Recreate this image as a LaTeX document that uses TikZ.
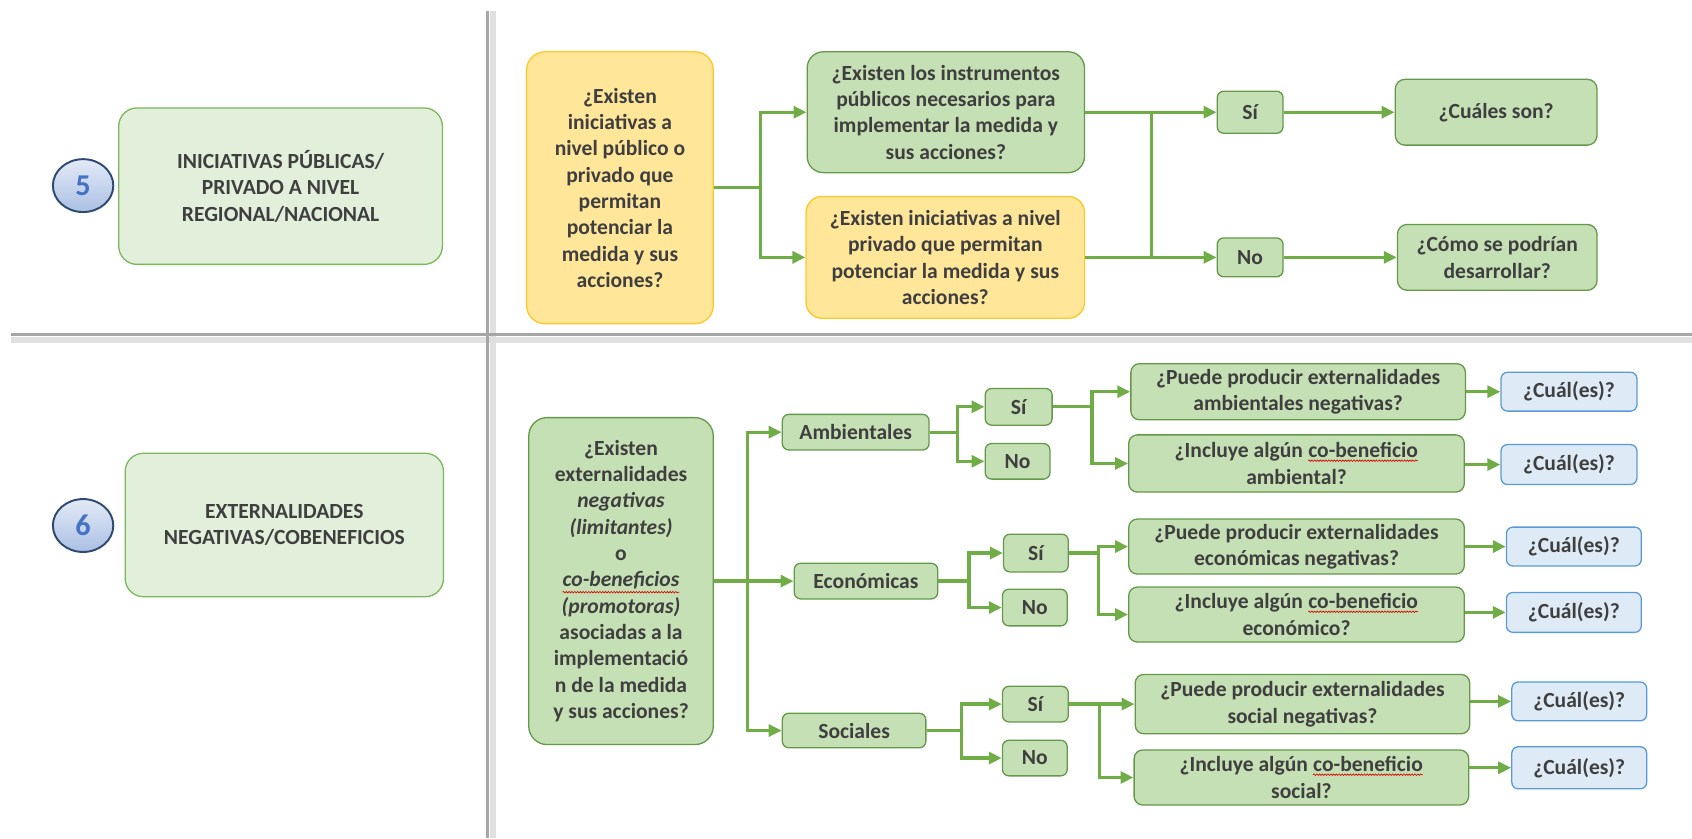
\documentclass[tikz,border=0pt]{standalone}
\usepackage{fontspec}
\setmainfont{Carlito}
\usepackage{xcolor}
\usepackage{tikz}
\usetikzlibrary{arrows.meta,shapes.geometric,decorations.pathmorphing}

\definecolor{txtgray}{HTML}{3F3F3F}
\definecolor{secfill}{HTML}{E2EFDA}
\definecolor{secline}{HTML}{7DB75B}
\definecolor{askfill}{HTML}{C5E0B4}
\definecolor{askline}{HTML}{64994A}
\definecolor{ideafill}{HTML}{FFE699}
\definecolor{idealine}{HTML}{FFC726}
\definecolor{cualfill}{HTML}{DEEBF7}
\definecolor{cualline}{HTML}{5B9BD5}
\definecolor{flowgreen}{HTML}{70AD47}
\definecolor{numblue}{HTML}{4472C4}
\definecolor{numline}{HTML}{2E4A70}
\definecolor{divgray}{HTML}{A6A6A6}

% red spell-check wave under a word
\newcommand{\squig}[1]{\tikz[baseline=(w.base)]{\node[shape=rectangle,draw=none,fill=none,inner sep=0pt,outer sep=0pt,
    minimum width=0pt,minimum height=0pt,rounded corners=0pt] (w) {#1};
  \draw[red!85!black,line width=0.6pt,rounded corners=0pt,decorate,decoration={snake,amplitude=0.7pt,segment length=2.6pt}]
  ([yshift=-2.5pt]w.south west) -- ([yshift=-2.5pt]w.south east);}}

\begin{document}
\begin{tikzpicture}
                [
                x=1pt,y=-1pt,
                box/.style={draw,rounded corners=8pt,line width=1.2pt,align=center,text=txtgray,
                            font=\bfseries\fontsize{20}{24.4}\selectfont},
                sec/.style={box,fill=secfill,draw=secline,rounded corners=17pt},
                ask/.style={box,fill=askfill,draw=askline},
                idea/.style={box,fill=ideafill,draw=idealine,rounded corners=17pt},
                opt/.style={box,fill=askfill,draw=askline,rounded corners=6pt},
                cual/.style={box,fill=cualfill,draw=cualline,rounded corners=6pt},
                num/.style={ellipse,draw=numline,line width=1.8pt,top color=white!85!numblue,
                            bottom color=numblue!45,text=numblue,minimum width=56pt,minimum height=49pt,
                            font=\bfseries\fontsize{28}{30}\selectfont},
                link/.style={draw=flowgreen,line width=3pt},
                flow/.style={link,-{Triangle[length=12pt,width=11pt]}}
                ]
            \useasboundingbox (0,0) rectangle (1568,777);
            % dividers
            \draw[line width=6pt,black!12] (457,10) -- (457,777);
            \draw[line width=6pt,black!12] (10,315) -- (1568,315);
            \draw[line width=3pt,divgray] (452,10) -- (452,777);
            \draw[line width=3pt,divgray] (10,310) -- (1568,310);

            % section 5
            \node[num] (n5) at (77,172) {5};
            \node[sec,minimum width=300pt,minimum height=145pt] (sec5) at (260,172.5)
                {INICIATIVAS PÚBLICAS/\\PRIVADO A NIVEL\\REGIONAL/NACIONAL};
            \node[idea,minimum width=173pt,minimum height=252pt] (q5) at (574.5,174)
                {¿Existen\\iniciativas a\\nivel público o\\privado que\\permitan\\potenciar la\\medida y sus\\acciones?};
            \node[ask,rounded corners=15pt,minimum width=257pt,minimum height=112pt] (inst) at (876.5,104)
                {¿Existen los instrumentos\\públicos necesarios para\\implementar la medida y\\sus acciones?};
            \node[idea,rounded corners=15pt,minimum width=258pt,minimum height=113pt] (priv) at (876,238.5)
                {¿Existen iniciativas a nivel\\privado que permitan\\potenciar la medida y sus\\acciones?};
            \node[opt,minimum width=61pt,minimum height=39pt] (si5) at (1158.5,104) {Sí};
            \node[opt,minimum width=61pt,minimum height=36pt] (no5) at (1158.5,238.5) {No};
            \node[opt,rounded corners=9pt,minimum width=187pt,minimum height=61pt] (cuales) at (1386.5,104) {¿Cuáles son?};
            \node[opt,rounded corners=9pt,minimum width=185pt,minimum height=61pt] (como) at (1387.5,238.5)
                {¿Cómo se podrían\\desarrollar?};

            \coordinate (b5) at (705,174);
            \coordinate (j5) at (1067,0);
            \draw[link] (q5.east) -- (b5);
            \draw[flow] (b5) |- (inst.west);
            \draw[flow] (b5) |- (priv.west);
            \draw[flow] (inst.east) -- (si5.west);
            \draw[flow] (priv.east) -- (no5.west);
            \draw[link] (j5 |- inst.east) -- (j5 |- priv.east);
            \draw[flow] (si5.east) -- (cuales.west);
            \draw[flow] (no5.east) -- (como.west);

            % section 6
            \node[num] (n6) at (77,487) {6};
            \node[sec,minimum width=295pt,minimum height=133pt] (sec6) at (263.5,486.5)
                {EXTERNALIDADES\\NEGATIVAS/COBENEFICIOS};
            \node[ask,rounded corners=17pt,minimum width=171pt,minimum height=303pt] (q6) at (575.5,538.5)
                {¿Existen\\externalidades\\\textit{negativas}\\\textit{(limitantes)}\\o\\\squig{\textit{co-beneficios}}\\
                 \textit{(promotoras)}\\asociadas a la\\implementació\\n de la medida\\y sus acciones?};
            \node[opt,minimum width=136pt,minimum height=33pt] (amb) at (793,400.5) {Ambientales};
            \node[opt,minimum width=133pt,minimum height=33pt] (eco) at (802.5,538.5) {Económicas};
            \node[opt,minimum width=133pt,minimum height=32pt] (soc) at (791.5,677) {Sociales};

            \node[opt,minimum width=62pt,minimum height=34pt] (sia) at (944,377) {Sí};
            \node[opt,minimum width=60pt,minimum height=33pt] (noa) at (943,427.5) {No};
            \node[opt,minimum width=60pt,minimum height=35pt] (sie) at (960,512.5) {Sí};
            \node[opt,minimum width=60pt,minimum height=34pt] (noe) at (959,563) {No};
            \node[opt,minimum width=61pt,minimum height=33pt] (sis) at (959.5,652.5) {Sí};
            \node[opt,minimum width=60pt,minimum height=33pt] (nos) at (959,702.5) {No};

            \node[ask,minimum width=310pt,minimum height=52pt] (pa) at (1203,363)
                {¿Puede producir externalidades\\ambientales negativas?};
            \node[ask,minimum width=311pt,minimum height=53pt] (ia) at (1201.5,429.5)
                {¿Incluye algún \squig{co-beneficio}\\ambiental?};
            \node[ask,minimum width=311pt,minimum height=51pt] (pe) at (1201.5,506.5)
                {¿Puede producir externalidades\\económicas negativas?};
            \node[ask,minimum width=311pt,minimum height=51pt] (ie) at (1201.5,569.5)
                {¿Incluye algún \squig{co-beneficio}\\económico?};
            \node[ask,minimum width=310pt,minimum height=55pt] (ps) at (1207,652.5)
                {¿Puede producir externalidades\\social negativas?};
            \node[ask,minimum width=310pt,minimum height=51pt] (is) at (1206,720.5)
                {¿Incluye algún \squig{co-beneficio}\\social?};

            \node[cual,minimum width=126pt,minimum height=36pt] (ca1) at (1454,363) {¿Cuál(es)?};
            \node[cual,minimum width=126pt,minimum height=37pt] (ca2) at (1454,430.5) {¿Cuál(es)?};
            \node[cual,minimum width=125pt,minimum height=36pt] (ce1) at (1458.5,506.5) {¿Cuál(es)?};
            \node[cual,minimum width=125pt,minimum height=37pt] (ce2) at (1458.5,567.5) {¿Cuál(es)?};
            \node[cual,minimum width=125pt,minimum height=36pt] (cs1) at (1463.5,650) {¿Cuál(es)?};
            \node[cual,minimum width=125pt,minimum height=39pt] (cs2) at (1463.5,711.5) {¿Cuál(es)?};

            \coordinate (b6) at (693,538.5);
            \draw[link] (q6.east) -- (b6);
            \draw[flow] (b6) |- (amb.west);
            \draw[flow] (b6) -- (eco.west);
            \draw[flow] (b6) |- (soc.west);

            \coordinate (ba) at (887,400.5);
            \draw[link] (amb.east) -- (ba);
            \draw[flow] (ba) |- (sia.west);
            \draw[flow] (ba) |- (noa.west);
            \coordinate (be) at (898,538.5);
            \draw[link] (eco.east) -- (be);
            \draw[flow] (be) |- (sie.west);
            \draw[flow] (be) |- (noe.west);
            \coordinate (bs) at (891,677);
            \draw[link] (soc.east) -- (bs);
            \draw[flow] (bs) |- (sis.west);
            \draw[flow] (bs) |- (nos.west);

            \coordinate (ja) at (1012,377);
            \draw[link] (sia.east) -- (ja);
            \draw[flow] (ja) |- (pa.west);
            \draw[flow] (ja) |- (ia.west);
            \coordinate (je) at (1018,512.5);
            \draw[link] (sie.east) -- (je);
            \draw[flow] (je) |- (pe.west);
            \draw[flow] (je) |- (ie.west);
            \coordinate (js) at (1019,652.5);
            \draw[link] (sis.east) -- (js);
            \draw[flow] (js) |- (ps.west);
            \draw[flow] (js) |- (is.west);

            \draw[flow] (pa.east |- ca1) -- (ca1.west);
            \draw[flow] (ia.east |- ca2) -- (ca2.west);
            \draw[flow] (pe.east |- ce1) -- (ce1.west);
            \draw[flow] (ie.east |- ce2) -- (ce2.west);
            \draw[flow] (ps.east |- cs1) -- (cs1.west);
            \draw[flow] (is.east |- cs2) -- (cs2.west);
            \end{tikzpicture}
\end{document}
